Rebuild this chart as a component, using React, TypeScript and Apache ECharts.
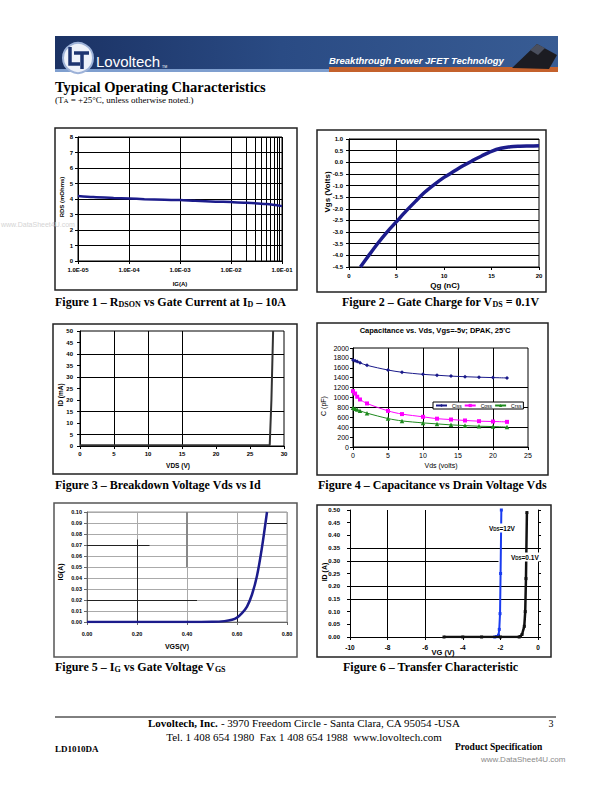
import React, { useEffect, useRef } from 'react';
import * as echarts from 'echarts';

// ---------- Figure 1: RDSON vs gate current ----------
const fig1IgA = [1e-5, 2e-5, 5e-5, 1e-4, 2e-4, 5e-4, 1e-3, 2e-3, 5e-3, 1e-2, 2e-2, 5e-2, 1e-1];
const fig1RdsMOhm = [4.2, 4.13, 4.07, 4.03, 3.99, 3.95, 3.93, 3.88, 3.83, 3.8, 3.76, 3.67, 3.54];
const fig1XTickLabels = ['1.0E-05', '1.0E-04', '1.0E-03', '1.0E-02', '1.0E-01'];
const fig1Decades = [1e-5, 1e-4, 1e-3, 1e-2];
const fig1MinorMultipliers = [2, 3, 4, 5, 6, 7, 8, 9];

// ---------- Figure 2: gate charge ----------
const fig2QgNC = [1.2, 2, 3, 4, 5, 6, 7, 8, 9, 10, 11, 12, 13, 14, 15, 16, 17, 18, 19, 20];
const fig2VgsV = [-4.5, -4.05, -3.5, -3.0, -2.55, -2.1, -1.68, -1.28, -0.95, -0.65, -0.4, -0.15, 0.07, 0.28, 0.47, 0.6, 0.67, 0.69, 0.7, 0.71];
const fig2VGrid = [5];

// ---------- Figure 3: breakdown ----------
const fig3VdsV = [0, 5, 10, 15, 20, 25, 27.9, 28.15, 28.4];
const fig3IdMA = [0.3, 0.3, 0.3, 0.3, 0.3, 0.3, 0.3, 20, 50];
const fig3VGrid = [5, 10, 15];
const fig3HGrid = [5, 15, 30, 40];

// ---------- Figure 4: capacitance ----------
const fig4Vds = [0, 0.3, 0.6, 1, 2, 5, 7, 10, 12, 14, 16, 18, 20, 22];
const fig4Ciss = [1760, 1740, 1725, 1700, 1650, 1555, 1510, 1468, 1450, 1432, 1420, 1410, 1402, 1395];
const fig4Coss = [1128, 1080, 1015, 960, 880, 730, 665, 610, 572, 555, 536, 522, 515, 508];
const fig4Crss = [795, 775, 757, 732, 684, 575, 527, 487, 467, 447, 433, 420, 413, 402];
const fig4SeriesNames = ['Ciss', 'Coss', 'Crss'];
const fig4VGrid = [5, 10, 15, 20];
const fig4HGrid = [1200, 800, 400];

// ---------- Figure 5: IG vs VGS ----------
const fig5VgsV = [0, 0.1, 0.2, 0.3, 0.4, 0.5, 0.55, 0.58, 0.6, 0.62, 0.64, 0.66, 0.68, 0.7, 0.72];
const fig5IgA = [0, 0, 0, 0, 0, 0.0002, 0.0008, 0.002, 0.004, 0.008, 0.014, 0.025, 0.042, 0.068, 0.1];

// ---------- Figure 6: transfer ----------
const fig6Vg12 = [-2.3, -2.2, -2.1, -2.06, -2.02, -1.99, -1.95];
const fig6Id12 = [0, 0.002, 0.007, 0.03, 0.092, 0.25, 0.5];
const fig6Vg01 = [-5, -4, -3, -2, -1, -0.94, -0.85, -0.73, -0.68, -0.64, -0.59];
const fig6Id01 = [0, 0, 0, 0, 0, 0.002, 0.01, 0.042, 0.1, 0.23, 0.49];
const fig6VGrid = [-8, -6];
const fig6HGrid = [0.35, 0.2, 0.15];

const zip = (xs: number[], ys: number[]) => xs.map((x, i) => [x, ys[i]]);

const SANS = 'Liberation Sans';
const SERIF = 'Liberation Serif';

function axis(gi: number, opts: any = {}, label: any = {}) {
  return {
    gridIndex: gi,
    type: 'value',
    axisLine: { show: true, onZero: false, lineStyle: { color: '#000', width: 1 } },
    axisTick: { show: true, length: 3, lineStyle: { color: '#000' } },
    splitLine: { show: false },
    ...opts,
    axisLabel: { color: '#000', fontFamily: SANS, fontWeight: 'bold', fontSize: 6, margin: 5, ...label },
  };
}

function mk(data: any[], color = '#000', width = 1) {
  return {
    silent: true,
    z: 1,
    symbol: ['none', 'none'],
    label: { show: false },
    emphasis: { disabled: true },
    lineStyle: { type: 'solid', color, width },
    data,
  };
}

function txt(x: number, y: number, text: string, o: any = {}) {
  const align = o.align || 'center';
  const valign = o.valign || 'middle';
  return {
    type: 'text',
    x,
    y,
    rotation: o.rotation || 0,
    z: 20,
    style: {
      text,
      fill: o.fill || '#000',
      fontSize: o.size || 7,
      fontFamily: o.family || SANS,
      fontWeight: o.weight || 'bold',
      fontStyle: o.fstyle || 'normal',
      align,
      verticalAlign: valign,
      textAlign: align,
      textVerticalAlign: valign,
      backgroundColor: o.bg,
      padding: o.pad,
      rich: o.rich,
    },
  };
}

function box(x: number, y: number, w: number, h: number, color = '#222') {
  return {
    type: 'rect',
    z: 15,
    shape: { x, y, width: w, height: h },
    style: { fill: 'none', stroke: color, lineWidth: 1.5 },
  };
}

const subRich = (size: number, family: string) => ({
  s: { fontSize: size, fontFamily: family, fontWeight: 'bold', verticalAlign: 'bottom' },
});

function caption(x: number, y: number, text: string) {
  return txt(x, y, text, { size: 12, family: SERIF, align: 'left', rich: subRich(8, SERIF) });
}

function buildOption() {
  const fig1Minor: any[] = [];
  fig1Decades.forEach((d) => fig1MinorMultipliers.forEach((m) => fig1Minor.push({ xAxis: d * m })));

  const graphic: any[] = [
    // watermark left
    txt(1, 224, 'www.DataSheet4U.com', { size: 7, weight: 'normal', fill: '#d4d4d4', align: 'left' }),
    // header banner
    {
      type: 'rect', z: 5, shape: { x: 55, y: 36, width: 503, height: 35 },
      style: {
        fill: {
          type: 'linear', x: 0, y: 0, x2: 1, y2: 0,
          colorStops: [
            { offset: 0, color: '#1b3264' },
            { offset: 0.45, color: '#2a4b84' },
            { offset: 1, color: '#385c94' },
          ],
        },
      },
    },
    { type: 'rect', z: 6, shape: { x: 55, y: 69, width: 276, height: 3 }, style: { fill: '#7f9fcf' } },
    { type: 'rect', z: 6, shape: { x: 329, y: 67, width: 229, height: 5 }, style: { fill: '#c4612c' } },
    { type: 'circle', z: 7, shape: { cx: 78, cy: 58, r: 15 }, style: { fill: '#eef2fa', stroke: '#9db2d8', lineWidth: 2 } },
    { type: 'polyline', z: 8, shape: { points: [[70, 47], [70, 64], [80, 64]] }, style: { stroke: '#1d3470', lineWidth: 3.5, fill: 'none' } },
    { type: 'polyline', z: 8, shape: { points: [[74, 53], [89, 53]] }, style: { stroke: '#1d3470', lineWidth: 3.5, fill: 'none' } },
    { type: 'polyline', z: 8, shape: { points: [[82, 53], [82, 69]] }, style: { stroke: '#1d3470', lineWidth: 3.5, fill: 'none' } },
    txt(96, 61, 'Lovoltech', { size: 15, weight: 'normal', fill: '#ffffff', align: 'left' }),
    txt(162, 67, 'TM', { size: 3.5, weight: 'normal', fill: '#ffffff', align: 'left' }),
    txt(329, 60, 'Breakthrough Power JFET Technology', { size: 9.5, fstyle: 'italic', fill: '#ffffff', align: 'left' }),
    { type: 'polygon', z: 8, shape: { points: [[512, 68], [537, 44], [557, 55], [549, 69]] }, style: { fill: '#1c1c22' } },
    { type: 'polygon', z: 9, shape: { points: [[530, 50], [537, 44], [545, 48], [538, 55]] }, style: { fill: '#4a4f5e' } },
    // page title
    txt(55, 87, 'Typical Operating Characteristics', { size: 14.5, family: SERIF, align: 'left' }),
    txt(55, 100, '(T{s|A} = +25°C, unless otherwise noted.)', {
      size: 9, family: SERIF, weight: 'normal', align: 'left',
      rich: { s: { fontSize: 7, fontFamily: SERIF, verticalAlign: 'bottom' } },
    }),
    // chart boxes
    box(55, 128, 242, 162),
    box(317, 130, 229, 162),
    box(53, 324, 244, 150),
    box(317, 323, 231, 152),
    box(54, 503, 243, 154, '#555'),
    box(317, 505, 234, 152),
    // axis titles
    txt(62, 197, 'RDS (mOhms)', { size: 6, rotation: Math.PI / 2 }),
    txt(180, 284, 'IG(A)', { size: 6 }),
    txt(327, 192, 'Vgs (Volts)', { size: 8, rotation: Math.PI / 2 }),
    txt(445, 285, 'Qg (nC)', { size: 8 }),
    txt(60, 395, 'ID (mA)', { size: 6.5, rotation: Math.PI / 2 }),
    txt(178, 465, 'VDS (V)', { size: 6.5 }),
    txt(435, 330, "Capacitance vs. Vds, Vgs=-5v; DPAK, 25'C", { size: 7.5 }),
    txt(323, 406, 'C (pF)', { size: 7, weight: 'normal', rotation: Math.PI / 2 }),
    txt(441, 465, 'Vds (volts)', { size: 7, weight: 'normal' }),
    txt(60, 572, 'IG(A)', { size: 7, rotation: Math.PI / 2 }),
    txt(177, 646, 'VGS(V)', { size: 7 }),
    txt(324, 572, 'ID (A)', { size: 7, rotation: Math.PI / 2 }),
    txt(443, 652, 'VG (V)', { size: 7.5 }),
    txt(488, 528, 'V{s|DS}=12V', { size: 6.5, align: 'left', bg: '#fff', pad: [1, 1], rich: subRich(4.5, SANS) }),
    txt(510, 557, 'V{s|DS}=0.1V', { size: 6.5, align: 'left', bg: '#fff', pad: [1, 1], rich: subRich(4.5, SANS) }),
    // captions
    caption(55, 302, 'Figure 1 – R{s|DSON} vs Gate Current at I{s|D} – 10A'),
    caption(342, 302, 'Figure 2 – Gate Charge for V{s|DS} = 0.1V'),
    caption(55, 485, 'Figure 3 – Breakdown Voltage Vds vs Id'),
    caption(318, 485, 'Figure 4 – Capacitance vs Drain Voltage Vds'),
    caption(55, 667, 'Figure 5 – I{s|G} vs Gate Voltage V{s|GS}'),
    caption(343, 667, 'Figure 6 – Transfer Characteristic'),
    // footer
    { type: 'line', z: 10, shape: { x1: 55, y1: 717, x2: 556, y2: 717 }, style: { stroke: '#000', lineWidth: 1 } },
    txt(304, 723, '{b|Lovoltech, Inc.} - 3970 Freedom Circle - Santa Clara, CA 95054 -USA', {
      size: 11, family: SERIF, weight: 'normal',
      rich: { b: { fontSize: 11, fontFamily: SERIF, fontWeight: 'bold' } },
    }),
    txt(551, 723, '3', { size: 10, family: SERIF, weight: 'normal' }),
    txt(304, 737, 'Tel. 1 408 654 1980  Fax 1 408 654 1988  www.lovoltech.com', { size: 11, family: SERIF, weight: 'normal' }),
    txt(55, 749, 'LD1010DA', { size: 9, family: SERIF, align: 'left' }),
    txt(455, 747, 'Product Specification', { size: 9.5, family: SERIF, align: 'left' }),
    txt(481, 759, 'www.DataSheet4U.com', { size: 8, weight: 'normal', fill: '#8a8a8a', align: 'left' }),
  ];

  return {
    animation: false,
    backgroundColor: '#ffffff',
    grid: [
      { left: 78, top: 137, width: 204, height: 124, show: true, borderColor: '#000', borderWidth: 1 },
      { left: 349, top: 139, width: 190, height: 128, show: true, borderColor: '#000', borderWidth: 1 },
      { left: 80, top: 331, width: 204, height: 115, show: true, borderColor: '#000', borderWidth: 1 },
      { left: 353, top: 348, width: 175, height: 99, show: true, borderColor: '#000', borderWidth: 1 },
      { left: 87, top: 512, width: 200, height: 110, show: true, borderColor: '#999', borderWidth: 1 },
      { left: 350, top: 510, width: 188, height: 127, show: false },
    ],
    xAxis: [
      axis(0, {
        type: 'log', logBase: 10, min: 1e-5, max: 1e-1,
        splitLine: { show: true, lineStyle: { color: '#000', width: 1 } },
      }, { margin: 6, formatter: (v: number) => fig1XTickLabels[Math.round(Math.log10(v)) + 5] }),
      axis(1, { min: 0, max: 20, interval: 5 }, { margin: 6 }),
      axis(2, { min: 0, max: 30, interval: 5 }, { margin: 5, fontSize: 6 }),
      axis(3, { min: 0, max: 25, interval: 5 }, { margin: 5, fontSize: 7, fontWeight: 'normal' }),
      axis(4, {
        min: 0, max: 0.8, interval: 0.2,
        axisLine: { show: true, onZero: false, lineStyle: { color: '#666' } },
        axisTick: { show: true, length: 3, lineStyle: { color: '#666' } },
        splitLine: { show: true, lineStyle: { color: '#aaa', width: 1 } },
      }, { margin: 9, fontSize: 5.5, formatter: (v: number) => v.toFixed(2) }),
      axis(5, { min: -10, max: 0, interval: 2 }, { margin: 7, fontSize: 6.5 }),
    ],
    yAxis: [
      axis(0, {
        min: 0, max: 8, interval: 1,
        splitLine: { show: true, lineStyle: { color: '#000', width: 1 } },
      }, { margin: 5 }),
      axis(1, {
        min: -4.5, max: 1, interval: 0.5,
        splitLine: { show: true, lineStyle: { color: '#000', width: 1 } },
      }, { margin: 6, formatter: (v: number) => v.toFixed(1) }),
      axis(2, { min: 0, max: 50, interval: 5 }, { margin: 7 }),
      axis(3, { min: 0, max: 2000, interval: 200 }, {
        margin: 4, fontSize: 7, fontWeight: 'normal', formatter: (v: number) => String(Math.round(v)),
      }),
      axis(4, {
        min: 0, max: 0.1, interval: 0.01,
        axisLine: { show: true, onZero: false, lineStyle: { color: '#666' } },
        axisTick: { show: true, length: 3, lineStyle: { color: '#666' } },
        splitLine: { show: true, lineStyle: { color: '#aaa', width: 1 } },
      }, { margin: 5, fontSize: 5.5, formatter: (v: number) => v.toFixed(2) }),
      axis(5, { min: 0, max: 0.5, interval: 0.05 }, { margin: 10, fontSize: 6, formatter: (v: number) => v.toFixed(2) }),
      axis(5, {
        min: 0, max: 0.5, interval: 0.05, position: 'right',
        axisTick: { show: true, length: 3, inside: false, lineStyle: { color: '#000' } },
      }, { show: false }),
    ],
    legend: {
      data: fig4SeriesNames,
      left: 433, top: 402,
      orient: 'horizontal',
      backgroundColor: '#fff',
      borderColor: '#000',
      borderWidth: 1,
      borderRadius: 0,
      padding: [1, 2],
      itemGap: 2,
      itemWidth: 11,
      itemHeight: 4,
      textStyle: { fontSize: 5, fontFamily: SANS, color: '#000' },
    },
    series: [
      {
        name: 'RDS', type: 'line', xAxisIndex: 0, yAxisIndex: 0, z: 3,
        data: zip(fig1IgA, fig1RdsMOhm), symbol: 'none', smooth: 0.3,
        lineStyle: { color: '#1c1c8c', width: 2.5 },
        markLine: mk(fig1Minor, '#000', 1),
      },
      {
        name: 'Vgs', type: 'line', xAxisIndex: 1, yAxisIndex: 1, z: 3,
        data: zip(fig2QgNC, fig2VgsV), symbol: 'none', smooth: 0.3,
        lineStyle: { color: '#1c1c8c', width: 3.5 },
        markLine: mk(fig2VGrid.map((v) => ({ xAxis: v }))),
      },
      {
        name: 'ID', type: 'line', xAxisIndex: 2, yAxisIndex: 2, z: 3,
        data: zip(fig3VdsV, fig3IdMA), symbol: 'none',
        lineStyle: { color: '#333', width: 2 },
        markLine: mk([
          ...fig3VGrid.map((v) => ({ xAxis: v })),
          ...fig3HGrid.map((v) => ({ yAxis: v })),
        ]),
      },
      {
        name: 'Ciss', type: 'line', xAxisIndex: 3, yAxisIndex: 3, z: 3,
        data: zip(fig4Vds, fig4Ciss), symbol: 'diamond', symbolSize: 4, smooth: 0.3,
        itemStyle: { color: '#1a1a8a' }, lineStyle: { color: '#1a1a8a', width: 1 },
        markLine: mk([
          ...fig4VGrid.map((v) => ({ xAxis: v })),
          ...fig4HGrid.map((v) => ({ yAxis: v })),
        ]),
      },
      {
        name: 'Coss', type: 'line', xAxisIndex: 3, yAxisIndex: 3, z: 3,
        data: zip(fig4Vds, fig4Coss), symbol: 'rect', symbolSize: 4, smooth: 0.3,
        itemStyle: { color: '#ff00ff' }, lineStyle: { color: '#ff00ff', width: 1 },
      },
      {
        name: 'Crss', type: 'line', xAxisIndex: 3, yAxisIndex: 3, z: 3,
        data: zip(fig4Vds, fig4Crss), symbol: 'triangle', symbolSize: 4.5, smooth: 0.3,
        itemStyle: { color: '#1e8a1e' }, lineStyle: { color: '#1e8a1e', width: 1 },
      },
      {
        name: 'IG', type: 'line', xAxisIndex: 4, yAxisIndex: 4, z: 3,
        data: zip(fig5VgsV, fig5IgA), symbol: 'none', smooth: 0.3,
        lineStyle: { color: '#1c1c8c', width: 2.5 },
        markLine: mk([
          [{ coord: [0.2, 0] }, { coord: [0.2, 0.075] }],
          [{ coord: [0.6, 0] }, { coord: [0.6, 0.04] }],
          [{ coord: [0, 0.07] }, { coord: [0.25, 0.07] }],
          [{ coord: [0, 0.02] }, { coord: [0.44, 0.02] }],
          [{ coord: [0.72, 0.09] }, { coord: [0.8, 0.09] }],
          [{ coord: [0.4, 0.05] }, { coord: [0.4, 0.1], lineStyle: { color: '#888', width: 2 } }],
        ], '#222', 1),
      },
      {
        name: 'VDS=12V', type: 'line', xAxisIndex: 5, yAxisIndex: 5, z: 3,
        data: zip(fig6Vg12, fig6Id12), symbol: 'rect', symbolSize: 3,
        itemStyle: { color: '#1a3cf0' }, lineStyle: { color: '#1a3cf0', width: 2 },
        markLine: mk([
          ...fig6VGrid.map((v) => ({ xAxis: v })),
          ...fig6HGrid.map((v) => ({ yAxis: v })),
          [{ coord: [-10, 0.3] }, { coord: [-2.1, 0.3] }],
        ]),
      },
      {
        name: 'VDS=0.1V', type: 'line', xAxisIndex: 5, yAxisIndex: 5, z: 4,
        data: zip(fig6Vg01, fig6Id01), symbol: 'rect', symbolSize: 3,
        itemStyle: { color: '#111' }, lineStyle: { color: '#111', width: 2.5 },
      },
    ],
    graphic: { elements: graphic },
  };
}

export default function App() {
  const ref = useRef<HTMLDivElement>(null);
  useEffect(() => {
    if (!ref.current) return;
    const chart = echarts.init(ref.current, null, { renderer: 'svg' });
    chart.setOption(buildOption() as any);
    return () => chart.dispose();
  }, []);
  return (
    <div
      ref={ref}
      style={{ position: 'absolute', left: 0, top: 0, width: 612, height: 792, background: '#fff' }}
    />
  );
}
